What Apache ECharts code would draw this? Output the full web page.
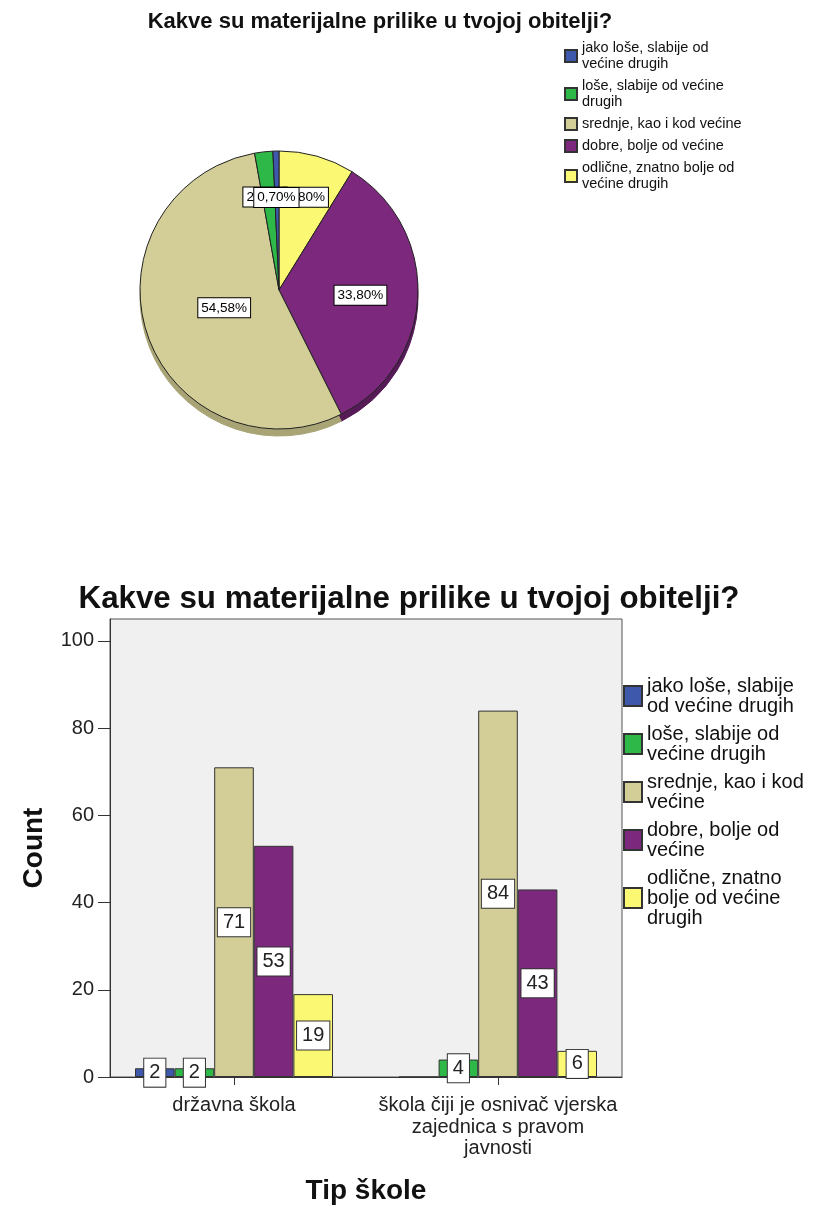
<!DOCTYPE html>
<html>
<head>
<meta charset="utf-8">
<script src="https://cdn.jsdelivr.net/npm/echarts@6/dist/echarts.min.js"></script>
<style>
html,body{margin:0;padding:0;background:#fff;}
#chart{width:818px;height:1209px;}
</style>
</head>
<body>
<div id="chart"></div>
<script>
// ---- data ----
var titleText = 'Kakve su materijalne prilike u tvojoj obitelji?';
var categories = [
  'jako loše, slabije od većine drugih',
  'loše, slabije od većine drugih',
  'srednje, kao i kod većine',
  'dobre, bolje od većine',
  'odlične, znatno bolje od većine drugih'
];
var pieLegendLabels = [
  'jako loše, slabije od\nvećine drugih',
  'loše, slabije od većine\ndrugih',
  'srednje, kao i kod većine',
  'dobre, bolje od većine',
  'odlične, znatno bolje od\nvećine drugih'
];
var barLegendLabels = [
  'jako loše, slabije\nod većine drugih',
  'loše, slabije od\nvećine drugih',
  'srednje, kao i kod\nvećine',
  'dobre, bolje od\nvećine',
  'odlične, znatno\nbolje od većine\ndrugih'
];
var piePercents = [0.70, 2.11, 54.58, 33.80, 8.80];
var schoolTypes = ['državna škola', 'škola čiji je osnivač vjerska\nzajednica s pravom\njavnosti'];
var countJakoLose = [2, 0];
var countLose = [2, 4];
var countSrednje = [71, 84];
var countDobre = [53, 43];
var countOdlicne = [19, 6];
var yTicks = [0, 20, 40, 60, 80, 100];

// ---- styles ----
var colors = ['#3E58AC', '#2EB848', '#D3CE97', '#7C287D', '#FBF873'];
var shadeColors = ['#2b3e79', '#208034', '#a8a476', '#561b57', '#c9c65c'];
var pieLabelOffsets = [[-1, -20], [-6, -21], [14, -5], [9, 2], [7, -23]];
var FONT = '"Liberation Sans", Arial, sans-serif';

var barSeriesData = [countJakoLose, countLose, countSrednje, countDobre, countOdlicne];

// pie built clockwise from the top: last category first
var pieOrder = [4, 3, 2, 1, 0];
var pieData = pieOrder.map(function (i) {
  return {
    name: categories[i],
    value: piePercents[i],
    itemStyle: { color: colors[i] },
    label: { offset: pieLabelOffsets[i] }
  };
});
var shadeData = pieOrder.map(function (i) {
  return { value: piePercents[i], itemStyle: { color: shadeColors[i], borderColor: shadeColors[i] } };
});

var series = [
  {
    type: 'pie', z: 3,
    center: [279, 290], radius: 139,
    startAngle: 90, clockwise: true,
    avoidLabelOverlap: false,
    labelLayout: { hideOverlap: false },
    itemStyle: { borderColor: '#222', borderWidth: 1 },
    label: {
      show: true, position: 'inside',
      formatter: function (p) { return p.value.toFixed(2).replace('.', ',') + '%'; },
      fontFamily: FONT, fontSize: 13.5, color: '#000',
      backgroundColor: '#fff', borderColor: '#000', borderWidth: 1,
      padding: [3, 3, 2, 3]
    },
    labelLine: { show: false },
    emphasis: { disabled: true },
    data: pieData
  },
  {
    type: 'pie', z: 1, silent: true,
    center: [279, 297], radius: 139,
    startAngle: 90, clockwise: true,
    label: { show: false }, labelLine: { show: false },
    emphasis: { disabled: true },
    data: shadeData
  }
];

categories.forEach(function (c, i) {
  series.push({
    type: 'bar', name: c,
    xAxisIndex: 1, yAxisIndex: 1,
    barGap: '0%', barCategoryGap: '25%',
    itemStyle: { color: colors[i], borderColor: '#333', borderWidth: 1 },
    label: {
      show: true, position: 'inside',
      fontFamily: FONT, fontSize: 20, lineHeight: 20, color: '#222',
      backgroundColor: '#fff', borderColor: '#333', borderWidth: 1,
      padding: [4, 5, 4, 5]
    },
    emphasis: { disabled: true },
    data: barSeriesData[i].map(function (v) {
      return { value: v, label: { show: v !== 0 } };
    })
  });
});

var option = {
  animation: false,
  backgroundColor: '#fff',
  title: [
    { text: titleText, left: 375, top: 6, textAlign: 'center',
      textStyle: { fontFamily: FONT, fontSize: 22, fontWeight: 'bold', color: '#111' } },
    { text: titleText, left: 404, top: 579, textAlign: 'center',
      textStyle: { fontFamily: FONT, fontSize: 31.3, fontWeight: 'bold', color: '#111' } }
  ],
  legend: [
    {
      orient: 'vertical', left: 564, top: 40, padding: 0,
      icon: 'rect',
      itemWidth: 12, itemHeight: 12, itemGap: 6,
      data: categories,
      formatter: function (n) { return pieLegendLabels[categories.indexOf(n)]; },
      textStyle: { fontFamily: FONT, fontSize: 14.5, lineHeight: 16, color: '#111' },
      selectedMode: false
    },
    {
      orient: 'vertical', left: 623, top: 676, padding: 0,
      icon: 'rect',
      itemWidth: 18, itemHeight: 20, itemGap: 8,
      data: categories,
      formatter: function (n) { return barLegendLabels[categories.indexOf(n)]; },
      textStyle: { fontFamily: FONT, fontSize: 20, lineHeight: 20, color: '#111' },
      selectedMode: false
    }
  ],
  grid: [
    { left: 110, right: 196, top: 619, bottom: 132, show: true,
      backgroundColor: '#f0f0f0', borderColor: '#555', borderWidth: 1 },
    { left: 102, width: 528, top: 619, bottom: 132 }
  ],
  xAxis: [
    { type: 'category', gridIndex: 0, data: schoolTypes,
      name: 'Tip škole', nameLocation: 'middle', nameGap: 100,
      nameTextStyle: { fontFamily: FONT, fontSize: 28, fontWeight: 'bold', color: '#111' },
      axisLine: { lineStyle: { color: '#333' } },
      axisTick: { show: false }, axisLabel: { show: false } },
    { type: 'category', gridIndex: 1, data: schoolTypes,
      axisLine: { show: false },
      axisTick: { show: true, alignWithLabel: true, length: 8, lineStyle: { color: '#333' } },
      axisLabel: { fontFamily: FONT, fontSize: 20, lineHeight: 21.5, color: '#222', margin: 18, interval: 0 } }
  ],
  yAxis: [
    { type: 'value', gridIndex: 0, min: 0, max: 105, interval: 20,
      name: 'Count', nameLocation: 'middle', nameGap: 62, nameRotate: 90,
      nameTextStyle: { fontFamily: FONT, fontSize: 28, fontWeight: 'bold', color: '#111' },
      axisLine: { show: true, lineStyle: { color: '#333' } },
      axisTick: { show: true, length: 12, customValues: yTicks, lineStyle: { color: '#333' } },
      axisLabel: { fontFamily: FONT, fontSize: 20, color: '#222', margin: 16, customValues: yTicks },
      splitLine: { show: false } },
    { type: 'value', gridIndex: 1, min: 0, max: 105, interval: 20, show: false,
      splitLine: { show: false } }
  ],
  series: series
};

var chart = echarts.init(document.getElementById('chart'), null, { renderer: 'canvas' });
chart.setOption(option);
</script>
</body>
</html>
